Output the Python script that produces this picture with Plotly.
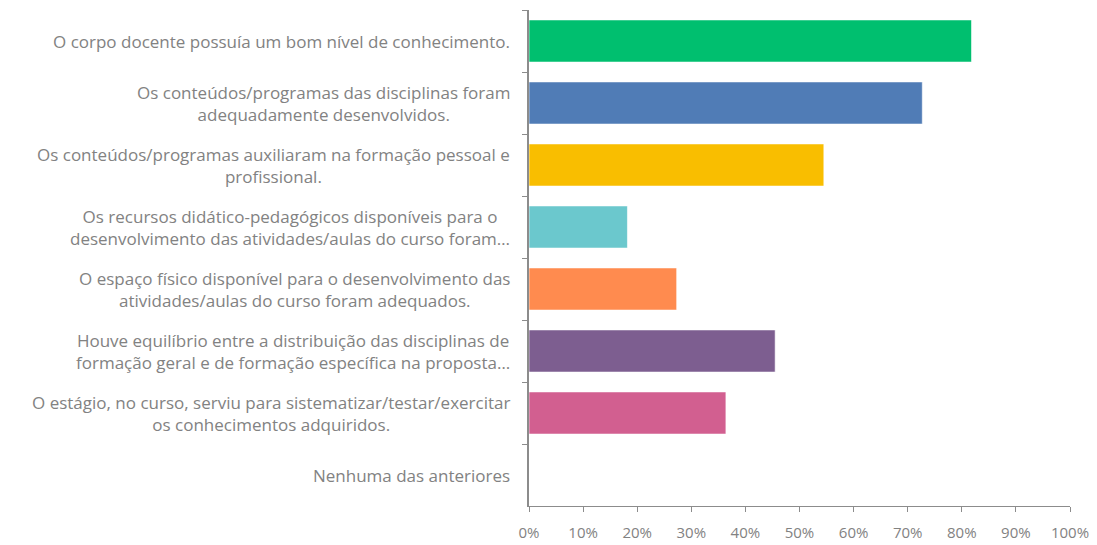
import plotly.graph_objects as go

# Survey statements (top to bottom) with their wrapped display lines
categories = [
    "O corpo docente possuía um bom nível de conhecimento.",
    "Os conteúdos/programas das disciplinas foram adequadamente desenvolvidos.",
    "Os conteúdos/programas auxiliaram na formação pessoal e profissional.",
    "Os recursos didático-pedagógicos disponíveis para o desenvolvimento das atividades/aulas do curso foram…",
    "O espaço físico disponível para o desenvolvimento das atividades/aulas do curso foram adequados.",
    "Houve equilíbrio entre a distribuição das disciplinas de formação geral e de formação específica na proposta…",
    "O estágio, no curso, serviu para sistematizar/testar/exercitar os conhecimentos adquiridos.",
    "Nenhuma das anteriores",
]
label_lines = [
    ["O corpo docente possuía um bom nível de conhecimento."],
    ["Os conteúdos/programas das disciplinas foram", "adequadamente desenvolvidos."],
    ["Os conteúdos/programas auxiliaram na formação pessoal e", "profissional."],
    ["Os recursos didático-pedagógicos disponíveis para o", "desenvolvimento das atividades/aulas do curso foram…"],
    ["O espaço físico disponível para o desenvolvimento das", "atividades/aulas do curso foram adequados."],
    ["Houve equilíbrio entre a distribuição das disciplinas de", "formação geral e de formação específica na proposta…"],
    ["O estágio, no curso, serviu para sistematizar/testar/exercitar", "os conhecimentos adquiridos."],
    ["Nenhuma das anteriores"],
]
percentages = [81.8, 72.7, 54.5, 18.2, 27.3, 45.5, 36.4, 0.0]
bar_colors = ["#00BF6F", "#507CB6", "#F9BE00", "#6BC8CD", "#FF8B4F", "#7D5E90", "#D25F90", "#D25F90"]
x_ticks = [0, 10, 20, 30, 40, 50, 60, 70, 80, 90, 100]
x_tick_labels = [f"{t}%" for t in x_ticks]

TEXT_GREY = "#828282"
AXIS_GREY = "#8C8C8C"
FONT = "Open Sans"
LABEL_SIZE = 17

fig = go.Figure(
    go.Bar(
        x=percentages,
        y=categories,
        orientation="h",
        marker=dict(color=bar_colors, line=dict(color="rgba(255,255,255,0.6)", width=1)),
        hoverinfo="x+y",
    )
)

# Category labels: centred multi-line blocks, right-anchored next to the axis
for cat, lines in zip(categories, label_lines):
    fig.add_annotation(
        x=0, y=cat, xref="x", yref="y",
        text="<br>".join(lines),
        showarrow=False, xanchor="right", yanchor="middle", align="center",
        xshift=-17,
        font=dict(family=FONT, size=LABEL_SIZE, color=TEXT_GREY),
    )

fig.update_layout(
    width=1097, height=545,
    margin=dict(l=529, r=27, t=10, b=39),
    paper_bgcolor="white", plot_bgcolor="white",
    bargap=0.32,
    showlegend=False,
    font=dict(family=FONT, size=15, color=TEXT_GREY),
)
fig.update_xaxes(
    range=[0, 100], tickvals=x_ticks, ticktext=x_tick_labels,
    showgrid=False, zeroline=False, automargin=False,
    showline=True, linecolor=AXIS_GREY, linewidth=1,
    ticks="outside", ticklen=5, tickcolor=AXIS_GREY,
    ticklabelstandoff=8,
    tickfont=dict(family=FONT, size=15, color=TEXT_GREY),
)
fig.update_yaxes(
    categoryorder="array", categoryarray=categories, autorange="reversed",
    showticklabels=False, showgrid=False, zeroline=False, automargin=False,
    showline=True, linecolor=AXIS_GREY, linewidth=1.5,
    ticks="outside", ticklen=5, tickcolor=AXIS_GREY, tickson="boundaries",
)

fig.write_html("out.html")
